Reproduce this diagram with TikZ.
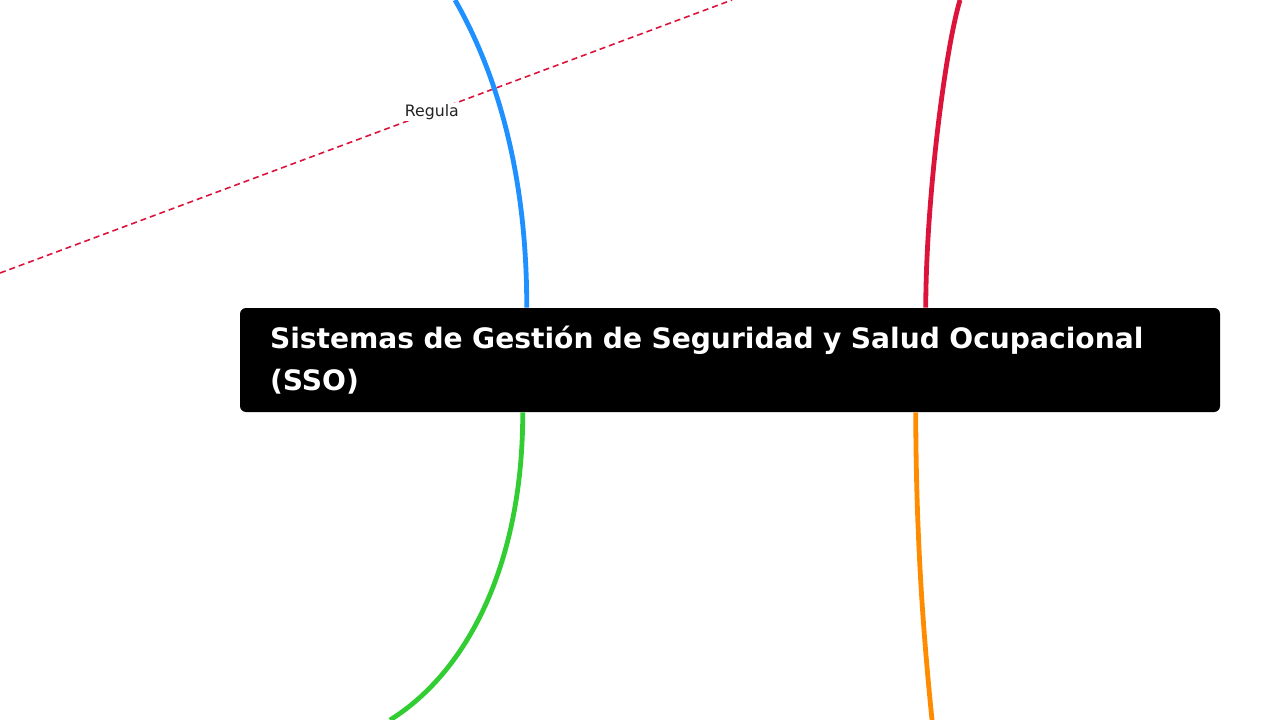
\documentclass[tikz,border=0pt]{standalone}
\usepackage{fontspec}
\setmainfont{DejaVu Sans}
\usetikzlibrary{calc}
\definecolor{branchblue}{HTML}{1E90FF}
\definecolor{branchred}{HTML}{DC143C}
\definecolor{branchgreen}{HTML}{32CD32}
\definecolor{branchorange}{HTML}{FF8C00}
\definecolor{labelgray}{HTML}{222222}
\begin{document}
\begin{tikzpicture}[x=0.75pt,y=-0.75pt,
    topic/.style={fill=black, rounded corners=4.5pt, text=white,
      font=\bfseries\fontsize{21.1}{31.5}\selectfont, text width=690pt,
      align=left, inner xsep=22.5pt, inner ysep=7.5pt, minimum height=78pt},
    branch/.style={line width=3.6pt},
    relline/.style={draw=branchred, line width=1.2pt, dash pattern=on 4.5pt off 3pt},
    rellabel/.style={fill=white, text=labelgray, font=\fontsize{11.8}{14}\selectfont, inner sep=1pt}]
    \useasboundingbox (0,0) rectangle (1280,720);
    \clip (0,0) rectangle (1280,720);

    % Relation line with its label
    \coordinate (regA) at (0,273);
    \coordinate (regB) at (732,0);
    \draw[relline] (regA) -- node[rellabel, pos=0.59] (regula) {Regula} (regB);

    % Central topic
    \node[topic] (sso) at (730,360) {Sistemas de Gestión de Seguridad y Salud Ocupacional\\(SSO)};

    % Branch ends (off the page)
    \coordinate (blueend) at (455,0);
    \coordinate (redend) at (960,0);
    \coordinate (greenend) at (390,720);
    \coordinate (orangeend) at (932,720);

    % Branches
    \draw[branch, branchblue] ($(sso.north west)+(287,0)$) .. controls (527,170) and (495,70) .. (blueend);
    \draw[branch, branchred] ($(sso.north west)+(686,0)$) .. controls (926,200) and (945,50) .. (redend);
    \draw[branch, branchgreen] ($(sso.south west)+(283,0)$) .. controls (523,560) and (470,670) .. (greenend);
    \draw[branch, branchorange] ($(sso.south west)+(676,0)$) .. controls (916,550) and (925,650) .. (orangeend);
\end{tikzpicture}
\end{document}
